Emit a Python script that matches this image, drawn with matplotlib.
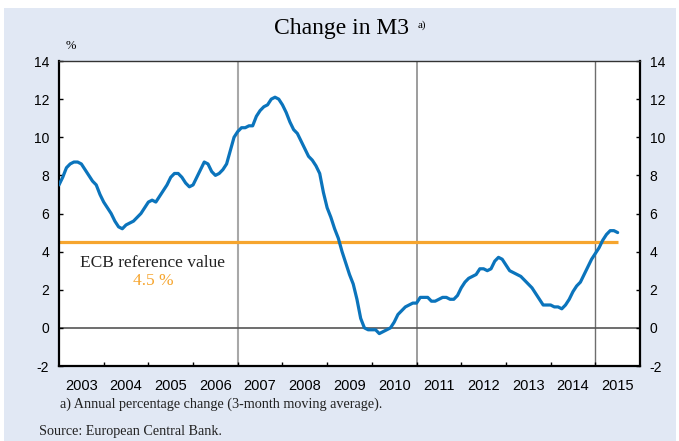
import numpy as np
import matplotlib
matplotlib.use('Agg')
import matplotlib.pyplot as plt
from matplotlib.patches import Rectangle

# monthly M3 growth, Jan 2003 onwards (% y/y, 3-month moving average)
m3_growth = [
    7.5, 7.9, 8.4, 8.6, 8.7, 8.7, 8.6, 8.3, 8.0, 7.7, 7.5, 7.0,    # 2003
    6.6, 6.3, 6.0, 5.6, 5.3, 5.2, 5.4, 5.5, 5.6, 5.8, 6.0, 6.3,    # 2004
    6.6, 6.7, 6.6, 6.9, 7.2, 7.5, 7.9, 8.1, 8.1, 7.9, 7.6, 7.4,    # 2005
    7.5, 7.9, 8.3, 8.7, 8.6, 8.2, 8.0, 8.1, 8.3, 8.6, 9.3, 10.0,   # 2006
    10.3, 10.5, 10.5, 10.6, 10.6, 11.1, 11.4, 11.6, 11.7, 12.0, 12.1, 12.0,  # 2007
    11.7, 11.3, 10.8, 10.4, 10.2, 9.8, 9.4, 9.0, 8.8, 8.5, 8.1, 7.1,  # 2008
    6.3, 5.8, 5.2, 4.7, 4.0, 3.4, 2.8, 2.3, 1.5, 0.5, 0.0, -0.1,   # 2009
    -0.1, -0.1, -0.3, -0.2, -0.1, 0.0, 0.3, 0.7, 0.9, 1.1, 1.2, 1.3,  # 2010
    1.3, 1.6, 1.6, 1.6, 1.4, 1.4, 1.5, 1.6, 1.6, 1.5, 1.5, 1.7,    # 2011
    2.1, 2.4, 2.6, 2.7, 2.8, 3.1, 3.1, 3.0, 3.1, 3.5, 3.7, 3.6,    # 2012
    3.3, 3.0, 2.9, 2.8, 2.7, 2.5, 2.3, 2.1, 1.8, 1.5, 1.2, 1.2,    # 2013
    1.2, 1.1, 1.1, 1.0, 1.2, 1.5, 1.9, 2.2, 2.4, 2.8, 3.2, 3.6,    # 2014
    3.9, 4.2, 4.6, 4.9, 5.1, 5.1, 5.0,                             # 2015
]
start_year = 2003
ref_value = 4.5
year_labels = [str(y) for y in range(2003, 2016)]
y_ticks = [-2, 0, 2, 4, 6, 8, 10, 12, 14]
divider_years = [2007, 2011, 2015]

BG = '#E1E8F4'
BLUE = '#0B74BC'
ORANGE = '#F6A52E'

months = np.arange(len(m3_growth))
x = start_year + months / 12.0

fig = plt.figure(figsize=(6.79, 4.41), dpi=100)
fig.patch.set_facecolor('white')
fig.patches.append(Rectangle((4 / 679, 0), 672 / 679, 1 - 8 / 441,
                             transform=fig.transFigure, facecolor=BG,
                             edgecolor='none', zorder=-10))

ax = fig.add_axes([59 / 679, 1 - 366 / 441, 581 / 679, 305 / 441])
ax.set_facecolor('white')

for yr, col, lw in zip(divider_years, ['#A8A8A8', '#8C8C8C', '#6E6E6E'], [1.5, 1.2, 1.0]):
    ax.axvline(yr, color=col, lw=lw, zorder=1)
ax.axhline(0, color='#555555', lw=1.2, zorder=1)

ax.hlines(ref_value, x[0], x[-1], color=ORANGE, lw=2.3, zorder=2)
ax.plot(x, m3_growth, color=BLUE, lw=2.3, solid_capstyle='round', zorder=3)

ax.set_xlim(2003, 2016)
ax.set_ylim(-2, 14)

ax.set_yticks(y_ticks)
ax.set_yticklabels([str(t) for t in y_ticks])
ax.tick_params(axis='y', direction='in', length=3, width=1, left=True, right=True,
               labelleft=True, labelright=True, labelsize=10, colors='black')
ax.tick_params(axis='y', which='major', pad=7)

ax.set_xticks(range(2004, 2016))
ax.set_xticklabels([])
ax.set_xticks([y + 0.5 for y in range(2003, 2016)], minor=True)
ax.set_xticklabels(year_labels, minor=True)
ax.tick_params(axis='x', which='major', direction='in', length=3, width=1)
ax.tick_params(axis='x', which='minor', length=0, pad=9, labelsize=10.5)

for side in ['left', 'right', 'bottom']:
    ax.spines[side].set_linewidth(1.6)
    ax.spines[side].set_color('black')
ax.spines['top'].set_linewidth(1.0)
ax.spines['top'].set_color('#333333')

for lab in ax.get_xticklabels(minor=True) + ax.get_yticklabels():
    lab.set_family(['Liberation Sans', 'DejaVu Sans'])

serif = ['Liberation Serif', 'DejaVu Serif']
fig.text(342 / 679, 1 - 34 / 441, 'Change in M3', ha='center', va='baseline',
         fontsize=17, family=serif)
fig.text(418 / 679, 1 - 28 / 441, 'a)', ha='left', va='baseline',
         fontsize=8, family=serif)
fig.text(71 / 679, 1 - 46 / 441, '%', ha='center', va='center',
         fontsize=9, family=serif)

ax.text(2005.1, 3.4, 'ECB reference value', ha='center', va='center',
        fontsize=12.5, family=serif, color='#222222')
ax.text(2005.1, 2.45, '4.5 %', ha='center', va='center',
        fontsize=12.5, family=serif, color=ORANGE)

fig.text(60 / 679, 1 - 404 / 441, 'a) Annual percentage change (3-month moving average).',
         ha='left', va='center', fontsize=10.2, family=serif, color='#222222')
fig.text(39 / 679, 1 - 431 / 441, 'Source: European Central Bank.',
         ha='left', va='center', fontsize=10.2, family=serif, color='#222222')

fig.savefig('out.png', dpi=100, facecolor=fig.get_facecolor())
